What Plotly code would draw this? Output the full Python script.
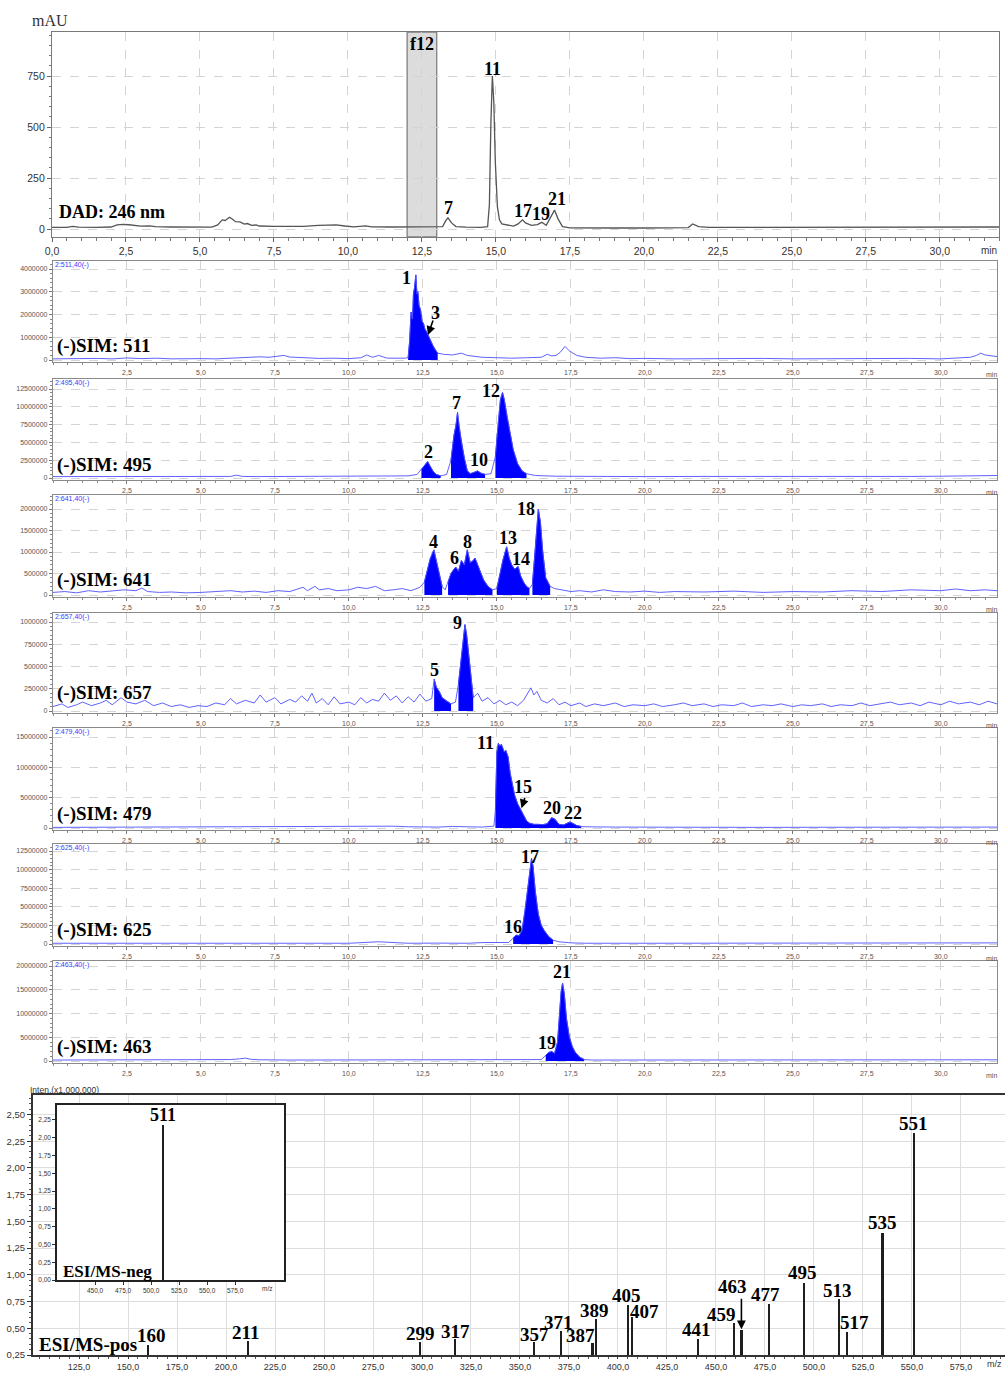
import plotly.graph_objects as go

# ---------------- data ----------------
# DAD 246 nm chromatogram (time min, mAU)
dad = [(0.0,8),(0.5,8),(0.7,13),(0.9,9),(1.5,8),(2.0,10),(2.2,20),(2.4,23),(2.6,21),(2.8,17),(3.0,14),(3.3,16),
       (3.5,12),(4.0,10),(4.5,9),(5.0,8),(5.4,9),(5.6,20),(5.75,45),(5.85,42),(6.0,58),(6.1,48),(6.2,36),(6.35,35),
       (6.5,24),(6.6,27),(6.75,18),(6.9,20),(7.0,15),(7.5,13),(8.0,12),(8.5,13),(9.0,18),(9.3,20),(9.6,20),(9.9,15),
       (10.2,11),(10.6,16),(10.8,11),(11.5,10),(12.0,10),(12.5,12),(13.0,9),(13.2,12),(13.3,40),(13.38,55),(13.5,30),
       (13.65,12),(14.0,9),(14.5,8),(14.72,12),(14.78,120),(14.83,520),(14.88,750),(14.93,620),(14.98,330),(15.05,110),
       (15.12,45),(15.2,25),(15.4,18),(15.6,14),(15.75,25),(15.9,45),(16.0,30),(16.2,18),(16.4,22),(16.55,33),(16.7,18),
       (16.85,55),(16.98,93),(17.1,50),(17.25,12),(17.5,6),(18.0,5),(19.0,5),(20.0,5),(21.0,5),(21.5,7),(21.65,25),
       (21.85,12),(22.2,8),(23.0,8),(25.0,8),(27.0,9),(29.0,10),(30.0,11),(31.0,11),(32.0,10)]

# SIM traces (time min, intensity in millions of counts)
sim511 = [(0,0.05),(0.5,0.06),(1.0,0.04),(1.5,0.07),(2.0,0.05),(2.5,0.09),(3.0,0.06),(3.5,0.08),(4.0,0.05),(4.5,0.07),
          (5.0,0.06),(5.5,0.05),(6.0,0.08),(6.5,0.1),(7.0,0.14),(7.3,0.12),(7.6,0.16),(7.8,0.2),(8.0,0.13),(8.5,0.1),
          (9.0,0.07),(9.5,0.08),(10.0,0.06),(10.4,0.1),(10.6,0.22),(10.8,0.12),(11.0,0.2),(11.3,0.08),(11.6,0.07),
          (11.9,0.08),(12.0,0.1),(12.05,0.8),(12.1,2.1),(12.15,1.8),(12.18,2.9),(12.22,3.2),(12.26,3.74),(12.3,2.9),
          (12.33,3.0),(12.37,2.4),(12.42,2.2),(12.47,1.7),(12.52,1.6),(12.57,1.35),(12.62,1.25),(12.67,1.1),(12.72,1.0),
          (12.78,0.85),(12.85,0.6),(12.92,0.45),(13.0,0.3),(13.2,0.25),(13.5,0.22),(13.8,0.3),(14.0,0.2),(14.5,0.12),
          (15.0,0.09),(15.5,0.08),(16.0,0.1),(16.5,0.12),(16.7,0.25),(16.85,0.18),(17.0,0.2),(17.15,0.35),(17.3,0.6),
          (17.45,0.4),(17.7,0.2),(18.0,0.12),(18.5,0.08),(19.0,0.1),(19.5,0.06),(20.0,0.07),(21,0.05),(22,0.06),(23,0.05),
          (24,0.07),(25,0.05),(26,0.06),(27,0.05),(28,0.06),(29,0.07),(30,0.05),(30.5,0.1),(31.0,0.12),(31.2,0.2),
          (31.35,0.3),(31.5,0.22),(31.7,0.2),(31.9,0.15)]

sim495 = [(0,0.2),(1,0.2),(2,0.22),(3,0.18),(4,0.2),(5,0.2),(6,0.22),(6.2,0.4),(6.4,0.22),(7,0.2),(8,0.2),(9,0.22),
          (10,0.2),(11,0.2),(12,0.3),(12.3,0.5),(12.45,1.2),(12.55,1.8),(12.66,2.3),(12.75,1.6),(12.85,0.9),(12.95,0.5),
          (13.1,0.3),(13.3,0.5),(13.45,2.5),(13.55,6.0),(13.62,7.5),(13.67,9.2),(13.72,7.2),(13.8,5.0),(13.9,2.8),
          (14.0,1.0),(14.1,0.6),(14.25,0.8),(14.35,1.0),(14.45,0.7),(14.6,0.5),(14.8,0.6),(14.95,3.0),(15.05,8.0),
          (15.12,11.0),(15.19,12.0),(15.25,11.0),(15.35,8.5),(15.45,6.0),(15.55,4.0),(15.7,2.0),(15.85,1.0),(16.0,0.6),
          (16.3,0.35),(17,0.25),(18,0.22),(19,0.2),(20,0.2),(22,0.22),(24,0.2),(26,0.22),(28,0.2),(29,0.22),(30,0.25),
          (31,0.3),(31.9,0.35)]

sim641 = [(0,0.06),(0.4,0.08),(0.8,0.05),(1.2,0.1),(1.6,0.07),(2.0,0.09),(2.4,0.12),(2.8,0.1),(3.0,0.16),(3.2,0.08),
          (3.6,0.06),(4.0,0.07),(4.5,0.05),(5.0,0.06),(5.5,0.08),(6.0,0.1),(6.4,0.07),(6.8,0.09),(7.2,0.06),(7.6,0.1),
          (8.0,0.08),(8.2,0.12),(8.45,0.18),(8.6,0.1),(8.85,0.2),(9.0,0.12),(9.3,0.15),(9.6,0.1),(10.0,0.12),(10.3,0.18),
          (10.6,0.15),(10.9,0.2),(11.2,0.1),(11.5,0.12),(11.8,0.15),(12.1,0.1),(12.4,0.18),(12.55,0.3),(12.65,0.6),
          (12.75,0.85),(12.87,1.05),(12.95,0.8),(13.05,0.45),(13.15,0.2),(13.25,0.12),(13.35,0.3),(13.45,0.5),(13.55,0.6),
          (13.61,0.65),(13.7,0.55),(13.8,0.8),(13.9,0.7),(14.0,1.05),(14.1,0.75),(14.2,0.8),(14.26,0.86),(14.35,0.7),
          (14.45,0.5),(14.55,0.35),(14.7,0.2),(14.85,0.12),(15.0,0.15),(15.1,0.5),(15.2,0.8),(15.33,1.12),(15.42,0.85),
          (15.5,0.7),(15.6,0.6),(15.72,0.66),(15.8,0.45),(15.9,0.3),(16.0,0.2),(16.1,0.15),(16.2,0.25),(16.28,0.9),
          (16.35,1.6),(16.4,2.0),(16.47,1.7),(16.55,1.0),(16.65,0.4),(16.8,0.2),(16.95,0.15),(17.2,0.12),(17.5,0.08),
          (17.8,0.1),(18.2,0.07),(18.6,0.12),(19.0,0.08),(19.5,0.07),(20.0,0.09),(20.5,0.06),(21.0,0.08),(22.0,0.07),
          (23.0,0.09),(24.0,0.06),(25.0,0.08),(26.0,0.07),(27.0,0.1),(28.0,0.08),(29.0,0.12),(30.0,0.1),(30.5,0.14),
          (31.0,0.1),(31.5,0.12),(31.9,0.1)]

sim657 = [(0,0.05),(0.3,0.08),(0.5,0.04),(0.8,0.07),(1.0,0.1),(1.3,0.06),(1.6,0.09),(1.8,0.12),(2.0,0.07),(2.3,0.15),
          (2.5,0.1),(2.8,0.08),(3.1,0.12),(3.4,0.06),(3.7,0.09),(4.0,0.05),(4.3,0.07),(4.6,0.04),(4.9,0.06),(5.2,0.05),
          (5.5,0.09),(5.8,0.07),(6.0,0.14),(6.2,0.08),(6.5,0.12),(6.8,0.09),(7.0,0.18),(7.2,0.1),(7.5,0.15),(7.7,0.08),
          (8.0,0.13),(8.2,0.1),(8.4,0.17),(8.6,0.11),(8.75,0.2),(8.9,0.09),(9.1,0.14),(9.3,0.07),(9.5,0.16),(9.7,0.08),
          (10.0,0.1),(10.2,0.07),(10.4,0.15),(10.6,0.09),(10.8,0.13),(11.0,0.11),(11.2,0.2),(11.4,0.12),(11.6,0.17),
          (11.8,0.09),(12.0,0.16),(12.2,0.1),(12.4,0.19),(12.6,0.11),(12.8,0.14),(12.88,0.36),(12.95,0.27),(13.05,0.22),
          (13.15,0.15),(13.3,0.11),(13.45,0.08),(13.6,0.1),(13.7,0.3),(13.8,0.6),(13.86,0.8),(13.92,0.97),(13.98,0.85),
          (14.05,0.6),(14.12,0.35),(14.2,0.15),(14.35,0.2),(14.5,0.11),(14.7,0.15),(14.9,0.08),(15.1,0.12),(15.3,0.07),
          (15.5,0.1),(15.7,0.06),(15.9,0.12),(16.05,0.2),(16.15,0.26),(16.25,0.18),(16.35,0.22),(16.5,0.12),(16.7,0.09),
          (16.9,0.14),(17.1,0.07),(17.3,0.1),(17.5,0.06),(17.8,0.09),(18.0,0.05),(18.3,0.08),(18.6,0.06),(19.0,0.09),
          (19.3,0.05),(19.6,0.07),(20.0,0.06),(20.3,0.08),(20.6,0.05),(21.0,0.07),(21.3,0.09),(21.6,0.06),(22.0,0.08),
          (22.3,0.05),(22.6,0.07),(23.0,0.06),(23.3,0.09),(23.6,0.05),(24.0,0.07),(24.3,0.06),(24.6,0.08),(25.0,0.05),
          (25.3,0.07),(25.6,0.06),(26.0,0.08),(26.3,0.05),(26.6,0.07),(27.0,0.06),(27.3,0.09),(27.6,0.06),(28.0,0.08),
          (28.3,0.1),(28.6,0.07),(29.0,0.09),(29.3,0.06),(29.6,0.1),(30.0,0.07),(30.3,0.11),(30.6,0.08),(31.0,0.1),
          (31.3,0.07),(31.6,0.11),(31.9,0.08)]

sim479 = [(0,0.1),(1,0.12),(2,0.1),(3,0.12),(4,0.1),(5,0.12),(6,0.15),(6.5,0.18),(7,0.15),(8,0.2),(9,0.25),(10,0.3),
          (11,0.35),(11.5,0.3),(12,0.2),(13,0.15),(13.5,0.25),(14,0.15),(14.5,0.15),(14.9,0.3),(14.95,3.0),(15.0,12.5),
          (15.05,13.95),(15.1,13.5),(15.15,13.8),(15.2,13.2),(15.25,12.5),(15.3,12.8),(15.38,11.7),(15.45,9.0),(15.52,7.0),
          (15.6,5.4),(15.7,4.0),(15.8,3.0),(15.9,2.0),(16.0,1.2),(16.1,0.8),(16.25,0.6),(16.4,0.6),(16.55,0.55),(16.7,0.7),
          (16.85,1.7),(16.95,1.5),(17.1,0.6),(17.25,0.5),(17.4,0.9),(17.47,1.0),(17.55,0.8),(17.7,0.4),(17.85,0.25),
          (18,0.2),(19,0.15),(20,0.12),(22,0.12),(24,0.1),(26,0.12),(28,0.12),(30,0.15),(31,0.2),(31.9,0.15)]

sim625 = [(0,0.1),(2,0.1),(4,0.12),(6,0.1),(8,0.12),(10,0.1),(11,0.3),(11.5,0.15),(12,0.1),(13,0.12),(14,0.1),
          (14.6,0.2),(15,0.15),(15.4,0.2),(15.55,0.8),(15.65,1.2),(15.75,1.1),(15.85,1.8),(15.95,4.5),(16.05,8.0),
          (16.12,10.5),(16.17,11.5),(16.22,10.5),(16.3,7.0),(16.4,4.0),(16.5,2.5),(16.6,1.8),(16.75,1.0),(16.9,0.5),
          (17.1,0.3),(17.5,0.15),(18,0.1),(20,0.1),(22,0.1),(24,0.12),(26,0.1),(28,0.1),(30,0.2),(31.9,0.15)]

sim463 = [(0,0.2),(2,0.2),(4,0.22),(5,0.2),(6,0.3),(6.3,0.45),(6.5,0.6),(6.7,0.35),(7,0.25),(8,0.2),(10,0.22),(12,0.2),
          (14,0.2),(15,0.22),(16,0.2),(16.5,0.3),(16.65,1.2),(16.75,1.8),(16.85,2.0),(16.95,1.6),(17.05,4.0),(17.12,10.0),
          (17.17,14.5),(17.22,16.4),(17.28,14.0),(17.35,9.0),(17.45,5.0),(17.55,3.0),(17.65,1.8),(17.8,0.8),(17.95,0.3),
          (18.2,0.2),(19,0.2),(21,0.2),(23,0.22),(25,0.2),(27,0.2),(29,0.22),(31,0.2),(31.9,0.25)]

# integrated (filled) peak windows, min
fills511 = [(12.0, 13.0)]
fills495 = [(12.4, 13.1), (13.4, 14.7), (14.9, 16.0)]
fills641 = [(12.55, 13.2), (13.3, 14.9), (15.0, 16.1), (16.2, 16.9)]
fills657 = [(12.85, 13.5), (13.65, 14.25)]
fills479 = [(14.95, 17.85)]
fills625 = [(15.5, 16.95)]
fills463 = [(16.6, 17.95)]

# peak labels (text, time, intensity)
dad_labels = [("11", 14.9, 784), ("7", 13.39, 101), ("17", 15.9, 90), ("19", 16.54, 74), ("21", 17.05, 146)]
lab511 = [("1", 11.95, 3.6), ("3", 12.94, 2.07)]
lab495 = [("2", 12.68, 3.69), ("7", 13.65, 10.5), ("10", 14.39, 2.53), ("12", 14.79, 12.2)]
lab641 = [("4", 12.85, 1.24), ("6", 13.58, 0.87), ("8", 14.0, 1.24), ("13", 15.38, 1.32), ("14", 15.8, 0.83), ("18", 16.0, 1.99)]
lab657 = [("5", 12.9, 0.46), ("9", 13.66, 0.99)]
lab479 = [("11", 14.63, 13.95), ("15", 15.89, 6.7), ("20", 16.85, 3.25), ("22", 17.56, 2.42)]
lab625 = [("17", 16.11, 11.73), ("16", 15.55, 2.33)]
lab463 = [("21", 17.19, 18.8), ("19", 16.68, 3.73)]

# ESI/MS positive spectrum (m/z, intensity x1,000,000)
ms_pos_mz  = [160, 211, 299, 317, 357, 371, 387, 389, 405, 407, 441, 459, 463, 477, 495, 513, 517, 535, 551]
ms_pos_int = [0.34, 0.38, 0.37, 0.40, 0.37, 0.47, 0.365, 0.59, 0.72, 0.61, 0.40, 0.55, 0.48, 0.73, 0.92, 0.777, 0.465, 1.39, 2.33]
# label positions (text, m/z, intensity)
ms_pos_labels = [("160", 162.1, 0.428), ("211", 209.7, 0.459), ("299", 299.2, 0.453), ("317", 317.2, 0.474),
                 ("357", 357.4, 0.444), ("371", 369.5, 0.552), ("387", 380.9, 0.428), ("389", 388.1, 0.671),
                 ("405", 404.6, 0.802), ("407", 413.5, 0.655), ("441", 440.2, 0.484), ("459", 452.9, 0.631),
                 ("463", 458.4, 0.895), ("477", 475.3, 0.818), ("495", 494.0, 1.02), ("513", 512.2, 0.858),
                 ("517", 520.6, 0.552), ("535", 534.8, 1.488), ("551", 550.7, 2.417)]
# ESI/MS negative spectrum (inset)
ms_neg_mz = [511]
ms_neg_int = [2.18]

# ---------------- layout helpers ----------------
W, H = 1005, 1373
def fx(p): return p / W
def fy(p): return 1 - p / H

SERIF = "Liberation Serif"
SANS = "Liberation Sans"
BLUE_LINE = "#4f4fff"
BLUE_FILL = "#0000ff"

fig = go.Figure()
ann = []
shapes = []
lay = dict(width=W, height=H, margin=dict(l=0, r=0, t=0, b=0, pad=0), paper_bgcolor="white", plot_bgcolor="white",
           showlegend=False, bargap=0, template="none")

def lbl(text, x, y, xref, yref, size=18, color="black", xanchor="center", yanchor="middle", bold=True, family=SERIF):
    ann.append(dict(text=("<b>%s</b>" % text) if bold else text, x=x, y=y, xref=xref, yref=yref, showarrow=False,
                    xanchor=xanchor, yanchor=yanchor, font=dict(family=family, size=size, color=color)))

def plbl(text, px, py, **kw):
    lbl(text, fx(px), fy(py), "paper", "paper", **kw)

# ---------------- DAD panel ----------------
fig.add_trace(go.Scatter(x=[p[0] for p in dad], y=[p[1] for p in dad], mode="lines",
                         line=dict(color="#555555", width=1.3), xaxis="x", yaxis="y", hoverinfo="skip"))
xt = [2.5 * i for i in range(13)]
lay["xaxis"] = dict(domain=[fx(52), fx(999)], range=[0, 32], anchor="y", tickvals=xt, automargin=False,
                    ticktext=[("%.1f" % v).replace(".", ",") for v in xt], ticks="outside", ticklen=4,
                    tickcolor="#666", minor=dict(tickmode="linear", tick0=0, dtick=0.5, ticks="outside", ticklen=3,
                                                 tickcolor="#777", showgrid=False),
                    showgrid=True, gridcolor="#d4d4d4", griddash="dash", showline=True, linecolor="#7a7a7a",
                    linewidth=1.3, mirror=True, zeroline=False, tickfont=dict(family=SANS, size=10.5, color="#333"))
lay["yaxis"] = dict(domain=[fy(237), fy(32)], range=[-39, 966], anchor="x", tickvals=[0, 250, 500, 750],
                    ticktext=["0", "250", "500", "750"], ticks="outside", ticklen=4, tickcolor="#666",
                    automargin=False,
                    minor=dict(tickmode="linear", tick0=0, dtick=50, ticks="outside", ticklen=2, tickcolor="#777",
                               showgrid=False),
                    showgrid=True, gridcolor="#d4d4d4", griddash="dash", showline=True, linecolor="#7a7a7a",
                    linewidth=1.3, mirror=True, zeroline=False, tickfont=dict(family=SANS, size=10.5, color="#333"))
shapes.append(dict(type="rect", xref="x", yref="paper", x0=12.0, x1=13.0, y0=fy(237), y1=fy(32), fillcolor="#dcdcdc",
                   line=dict(color="#808080", width=1.3), layer="below"))
plbl("f12", 422, 44, size=18)
for t, x, y in dad_labels:
    lbl(t, x, y, "x", "y", size=18)
plbl("DAD: 246 nm", 57, 212, size=18, xanchor="left")
plbl("mAU", 50, 20, size=16, bold=False, color="#333")
plbl("min", 989, 250, size=10, bold=False, family=SANS, color="#333")

# ---------------- SIM panels ----------------
# (name, data, fills, labels, top px, zero px, bottom px, ref value M, ref px, tick values M)
sim_panels = [
    ("511", sim511, fills511, lab511, 261, 360, 362, 4.0, 269, [0, 1, 2, 3, 4]),
    ("495", sim495, fills495, lab495, 379, 478, 480, 12.5, 389, [0, 2.5, 5, 7.5, 10, 12.5]),
    ("641", sim641, fills641, lab641, 495, 595, 597, 2.0, 509, [0, 0.5, 1, 1.5, 2]),
    ("657", sim657, fills657, lab657, 613, 711, 713, 1.0, 622, [0, 0.25, 0.5, 0.75, 1]),
    ("479", sim479, fills479, lab479, 728, 828, 830, 15.0, 737, [0, 5, 10, 15]),
    ("625", sim625, fills625, lab625, 844, 944, 946, 12.5, 851, [0, 2.5, 5, 7.5, 10, 12.5]),
    ("463", sim463, fills463, lab463, 961, 1061, 1063, 20.0, 966, [0, 5, 10, 15, 20]),
]
sim_name_py = {"511": 346, "495": 465, "641": 580, "657": 693, "479": 814, "625": 930, "463": 1047}
sxt = [2.5 * i for i in range(1, 13)]
for i, (name, data, fills, labs, top, zero, bot, rv, rp, yt) in enumerate(sim_panels):
    k = i + 2
    xa, ya = "x%d" % k, "y%d" % k
    pxm = (zero - rp) / rv
    lo, hi = -(bot - zero) / pxm * 1e6, (zero - top) / pxm * 1e6
    ts = [p[0] for p in data]
    vs = [p[1] * 1e6 for p in data]
    for a, b in fills:
        sel = [(t, v) for t, v in zip(ts, vs) if a <= t <= b]
        fig.add_trace(go.Scatter(x=[s[0] for s in sel], y=[s[1] for s in sel], mode="lines", fill="tozeroy",
                                 fillcolor=BLUE_FILL, line=dict(color=BLUE_FILL, width=0.8), xaxis=xa, yaxis=ya,
                                 hoverinfo="skip"))
    fig.add_trace(go.Scatter(x=ts, y=vs, mode="lines", line=dict(color=BLUE_LINE, width=0.9), xaxis=xa, yaxis=ya,
                             hoverinfo="skip"))
    lay["xaxis%d" % k] = dict(domain=[fx(53), fx(997)], range=[0, 31.9], anchor=ya, tickvals=sxt, automargin=False,
                              ticktext=[("%.1f" % v).replace(".", ",") for v in sxt], ticks="outside", ticklen=3,
                              tickcolor="#777",
                              minor=dict(tickmode="linear", tick0=0, dtick=0.5, ticks="outside", ticklen=2,
                                         tickcolor="#888", showgrid=False),
                              showgrid=True, gridcolor="#d4d4d4", griddash="dash", showline=True,
                              linecolor="#8a8a8a", linewidth=1.3, mirror=True, zeroline=False,
                              tickfont=dict(family=SANS, size=7, color="#555"))
    lay["yaxis%d" % k] = dict(domain=[fy(bot), fy(top)], range=[lo, hi], anchor=xa, automargin=False,
                              tickvals=[v * 1e6 for v in yt], ticktext=["%d" % round(v * 1e6) for v in yt],
                              ticks="outside", ticklen=3, tickcolor="#777",
                              minor=dict(tickmode="linear", tick0=0, dtick=yt[1] * 1e6 / 5, ticks="outside",
                                         ticklen=2, tickcolor="#888", showgrid=False),
                              showgrid=True, gridcolor="#d4d4d4", griddash="dash", showline=True,
                              linecolor="#8a8a8a", linewidth=1.3, mirror=True, zeroline=False,
                              tickfont=dict(family=SANS, size=7, color="#555"))
    for t, x, y in labs:
        lbl(t, x, y * 1e6, xa, ya, size=18)
    plbl("(-)SIM: %s" % name, 55, sim_name_py[name], size=19, xanchor="left")
    plbl("2:%s,40(-)" % name, 53, top + 4, size=7, bold=False, family=SANS, color="#3a3aff", xanchor="left")
    plbl("min", 991, bot + 12, size=7, bold=False, family=SANS, color="#555")

# arrows for shoulder peaks
def arrow(xa, ya, x, y, axv, ayv):
    ann.append(dict(text="", x=x, y=y, xref=xa, yref=ya, ax=axv, ay=ayv, axref=xa, ayref=ya, showarrow=True,
                    arrowhead=2, arrowsize=1.1, arrowwidth=1.6, arrowcolor="black"))
arrow("x2", "y2", 12.67, 1.1e6, 12.86, 1.8e6)
arrow("x6", "y6", 15.83, 3.25e6, 15.96, 5.2e6)

# ---------------- mass spectrum (ESI/MS-pos) ----------------
MS_BOT = 1355
fig.add_trace(go.Bar(x=ms_pos_mz, y=ms_pos_int, width=1.1, marker=dict(color="#1e1e1e", line=dict(width=0)),
                     xaxis="x9", yaxis="y9", hoverinfo="skip"))
mxt = [125 + 25 * i for i in range(19)]
myt = [0.25 * i for i in range(1, 11)]
lay["xaxis9"] = dict(domain=[fx(33), 1.0], range=[101.5, 597.5], anchor="y9", tickvals=mxt, automargin=False,
                     ticktext=[("%.1f" % v).replace(".", ",") for v in mxt], ticks="outside", ticklen=2,
                     tickcolor="#333", minor=dict(tickmode="linear", tick0=100, dtick=5, ticks="outside", ticklen=2,
                                                  tickcolor="#555", showgrid=False),
                     showgrid=True, gridcolor="#dedede", showline=True, linecolor="#333", linewidth=2, mirror=True,
                     zeroline=False, tickfont=dict(family=SANS, size=9, color="#333"))
lay["yaxis9"] = dict(domain=[fy(MS_BOT), fy(1095)], range=[0.25, 0.25 + (MS_BOT - 1095) / 106.9], anchor="x9",
                     automargin=False,
                     tickvals=myt, ticktext=[("%.2f" % v).replace(".", ",") for v in myt], ticks="outside", ticklen=4,
                     tickcolor="#333", minor=dict(tickmode="linear", tick0=0, dtick=0.05, ticks="outside", ticklen=2,
                                                  tickcolor="#555", showgrid=False),
                     showgrid=True, gridcolor="#dedede", showline=True, linecolor="#333", linewidth=2, mirror=False,
                     zeroline=False, tickfont=dict(family=SANS, size=9.5, color="#333"))
for t, x, y in ms_pos_labels:
    lbl(t, x, y, "x9", "y9", size=19)
ann.append(dict(text="", x=463, y=0.49, xref="x9", yref="y9", ax=463, ay=0.79, axref="x9", ayref="y9",
                showarrow=True, arrowhead=2, arrowsize=1.1, arrowwidth=1.6, arrowcolor="black"))
plbl("ESI/MS-pos", 37, 1344, size=19, xanchor="left")
plbl("Inten.(x1,000,000)", 28, 1090, size=8.5, bold=False, family=SANS, color="#333", xanchor="left")
plbl("m/z", 1004, 1364, size=9, bold=False, family=SANS, color="#333", xanchor="right")

# ---------------- inset (ESI/MS-neg) ----------------
fig.add_trace(go.Bar(x=ms_neg_mz, y=ms_neg_int, width=1.6, marker=dict(color="#1e1e1e", line=dict(width=0)),
                     xaxis="x10", yaxis="y10", hoverinfo="skip"))
ixt = [450, 475, 500, 525, 550, 575]
iyt = [0.25 * i for i in range(10)]
lay["xaxis10"] = dict(domain=[fx(57), fx(284)], range=[416, 618.6], anchor="y10", tickvals=ixt, automargin=False,
                      ticktext=[("%.1f" % v).replace(".", ",") for v in ixt], ticks="outside", ticklen=3,
                      tickcolor="#333", showgrid=False, showline=True, linecolor="#222", linewidth=1.5, mirror=True,
                      zeroline=False, tickfont=dict(family=SANS, size=6.5, color="#333"))
lay["yaxis10"] = dict(domain=[fy(1280), fy(1105)], range=[0, 2.46], anchor="x10", tickvals=iyt, automargin=False,
                      ticktext=[("%.2f" % v).replace(".", ",") for v in iyt], ticks="outside", ticklen=3,
                      tickcolor="#333", showgrid=False, showline=True, linecolor="#222", linewidth=1.5, mirror=True,
                      zeroline=False, tickfont=dict(family=SANS, size=6.5, color="#333"))
lbl("511", 511, 2.32, "x10", "y10", size=18)
plbl("ESI/MS-neg", 61, 1271, size=17, xanchor="left")
plbl("m/z", 267, 1288, size=6.5, bold=False, family=SANS, color="#333")

lay["annotations"] = ann
lay["shapes"] = shapes
fig.update_layout(**lay)
fig.write_html("out.html", config={"displayModeBar": False},
               post_script="document.body.style.margin='0px';document.body.style.padding='0px';")
